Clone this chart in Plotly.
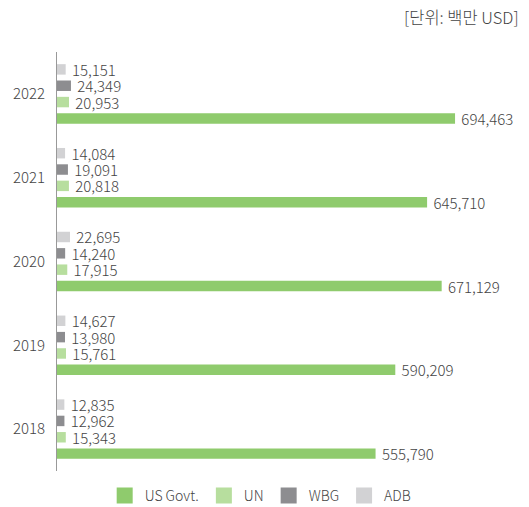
import plotly.graph_objects as go

years = ['2018', '2019', '2020', '2021', '2022']
us_govt = [555790, 590209, 671129, 645710, 694463]
un = [15343, 15761, 17915, 20818, 20953]
wbg = [12962, 13980, 14240, 19091, 24349]
adb = [12835, 14627, 22695, 14084, 15151]

FONT = "Noto Sans CJK KR"
TXT = '#444444'

series = [
    ('US Govt.', us_govt, '#8fcb6d'),
    ('UN', un, '#b7de9e'),
    ('WBG', wbg, '#8d8d90'),
    ('ADB', adb, '#d2d2d4'),
]

fig = go.Figure()
for name, vals, color in series:
    fig.add_trace(go.Bar(
        y=years, x=vals, name=name, orientation='h', showlegend=False,
        marker=dict(color=color, line=dict(width=0)),
        text=["\u00a0" + f"{v:,}" for v in vals], textposition='outside',
        textfont=dict(size=15, color=TXT, family=FONT, weight=300),
        constraintext='none', cliponaxis=False,
    ))
# legend entries with bigger square swatches
for name, vals, color in series:
    fig.add_trace(go.Scatter(
        x=[None], y=[None], mode='markers', name=name,
        marker=dict(symbol='square', size=16, color=color, line=dict(width=0)),
    ))

# page body has an 8px margin, so the figure is sized to fit the window
fig.update_layout(
    width=521, height=499,
    margin=dict(l=49, r=2, t=44, b=36),
    barmode='group', bargap=0.22, bargroupgap=0.36,
    plot_bgcolor='white', paper_bgcolor='white',
    font=dict(family=FONT, size=14, color=TXT, weight=300),
    xaxis=dict(range=[0, 820000], visible=False, fixedrange=True),
    yaxis=dict(
        type='category', categoryorder='array', categoryarray=years,
        showgrid=False, zeroline=False, automargin=False,
        showline=True, linecolor='#999999', linewidth=1,
        ticks='', ticklabelstandoff=8,
        tickfont=dict(size=15, color=TXT, family=FONT, weight=300),
    ),
    showlegend=True,
    legend=dict(
        orientation='h', xref='container', yref='container',
        x=0.485, xanchor='center', y=0.022, yanchor='middle',
        font=dict(size=14, color=TXT, weight=300), itemwidth=30, itemsizing='trace',
        traceorder='normal',
    ),
    annotations=[dict(
        text='[단위: 백만 USD]', xref='paper', yref='paper',
        x=1.0, xanchor='right', y=1.0, yanchor='bottom', yshift=21, xshift=-6,
        showarrow=False, font=dict(size=16.5, color=TXT, family=FONT, weight=300),
    )],
)

fig.write_html("out.html")
